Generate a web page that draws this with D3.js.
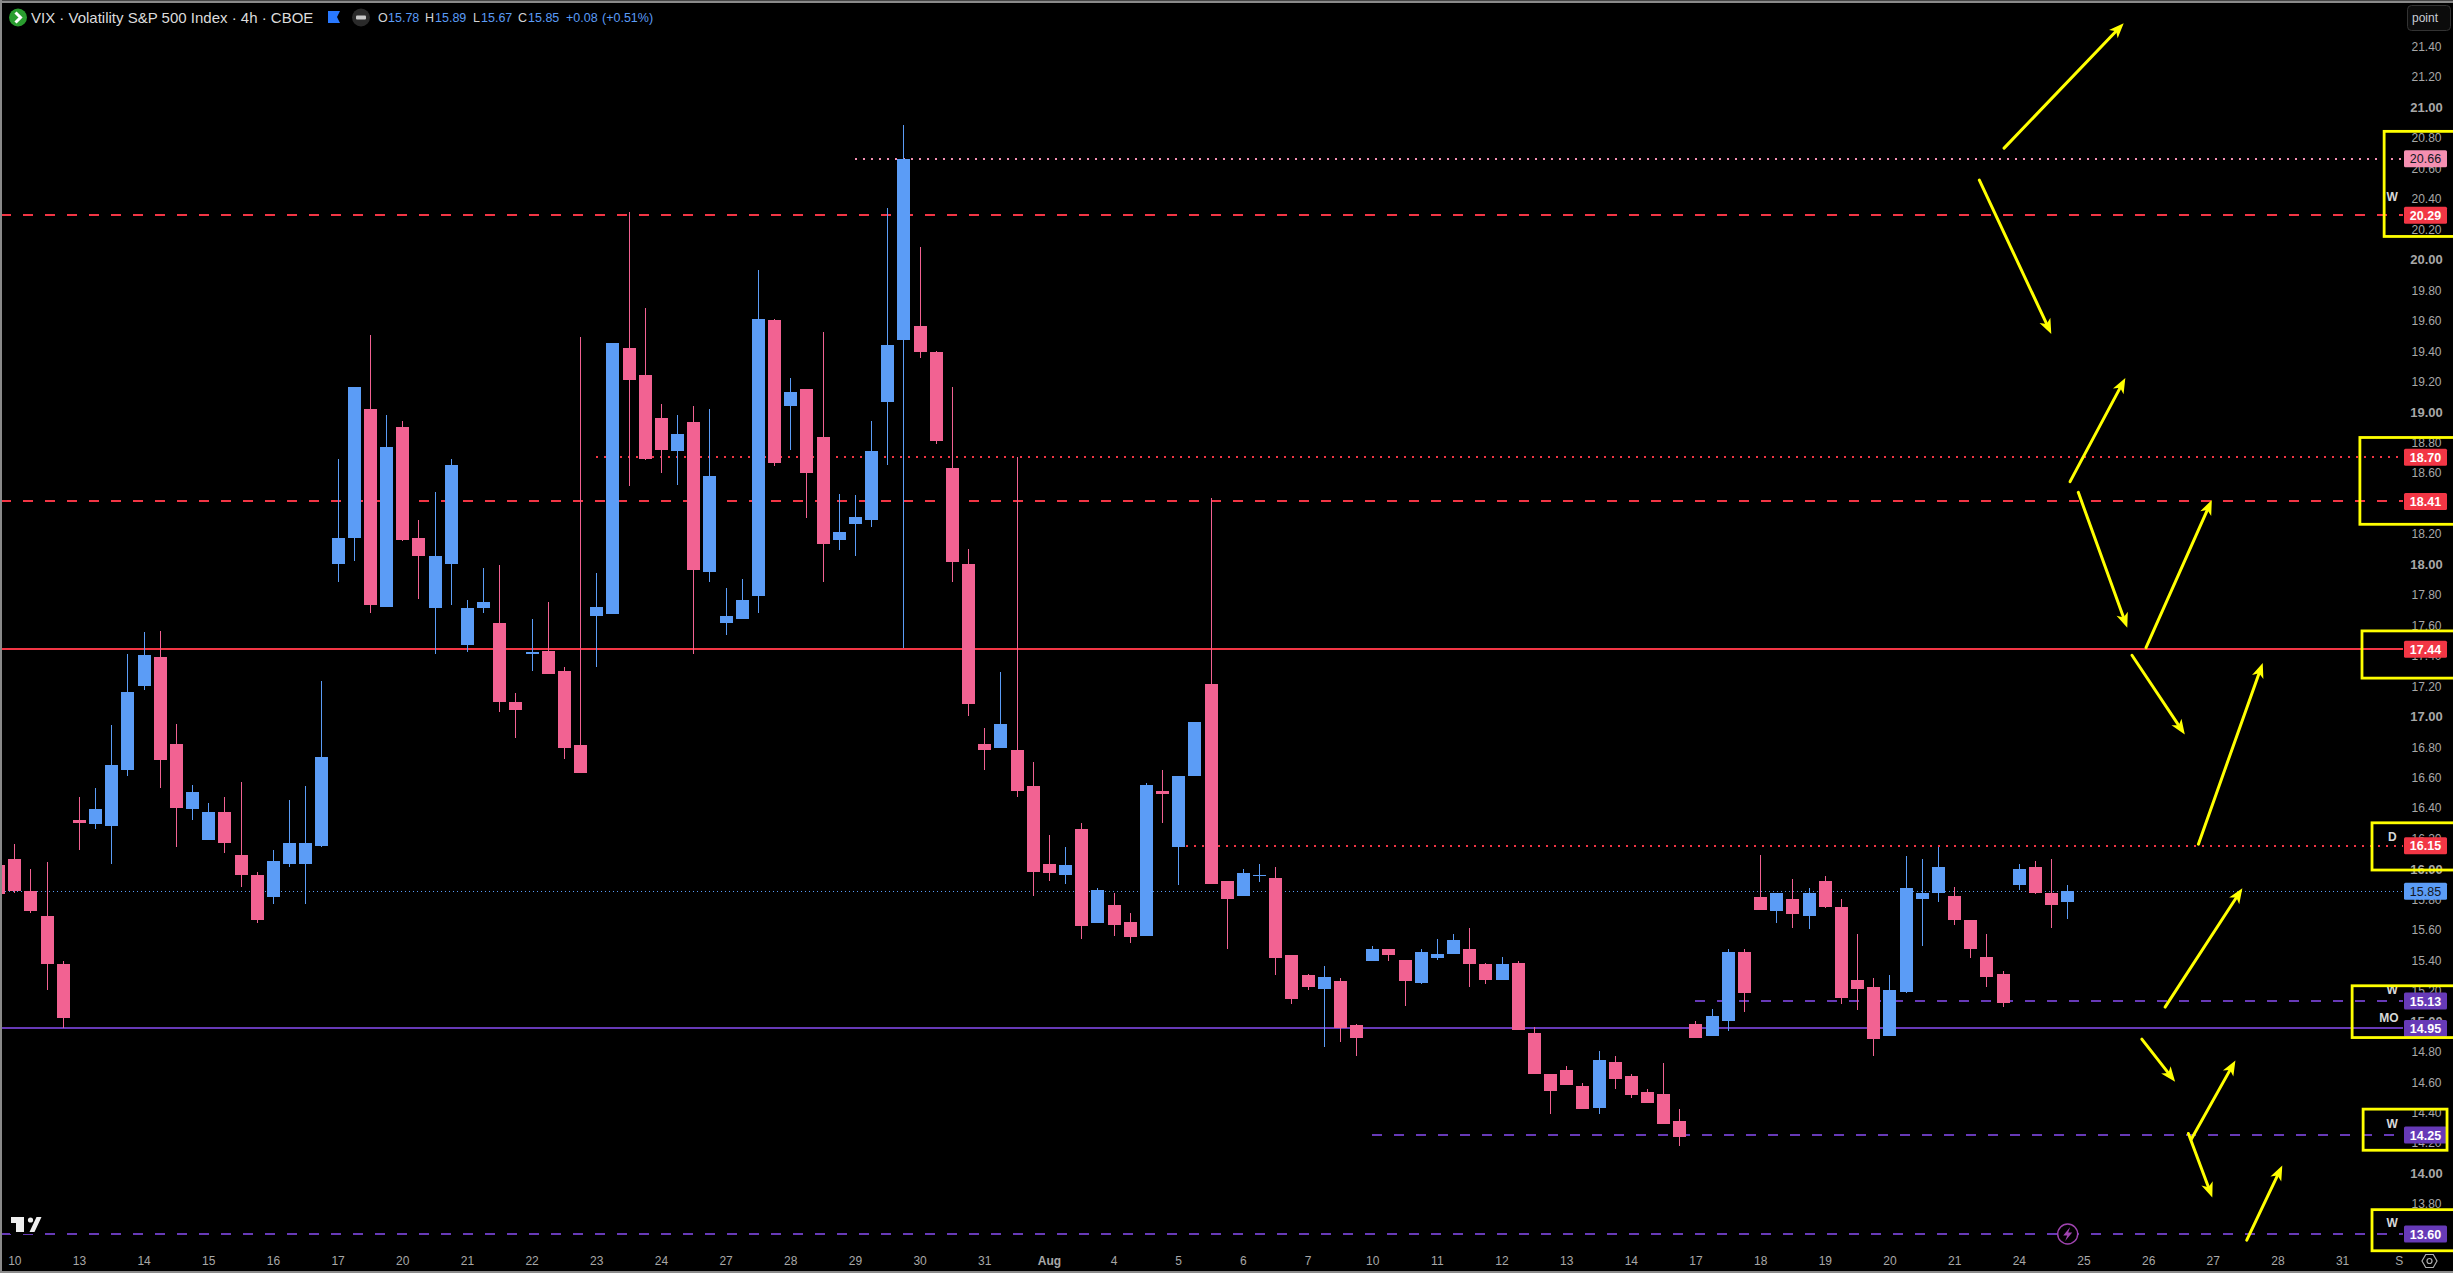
<!DOCTYPE html>
<html>
<head>
	<meta charset="utf-8">
	<title>VIX 4h chart</title>
	<style>
		html, body {
			margin: 0;
			background: #000;
			overflow: hidden;
		}
		svg {
			display: block;
			font-family: "Liberation Sans", Arial, sans-serif;
		}
		.axis path, .axis line {
			display: none;
		}
		.axis text {
			fill: #a8a8a8;
			font-size: 12px;
		}
	</style>
</head>
<body>
	<div id="drawing"></div>

	<script src="https://cdnjs.cloudflare.com/ajax/libs/d3/7.8.5/d3.min.js"></script>
	<script>
	// Candles. First one is bar -1, half hidden behind the left edge
	var firstBar = -1
	var opens = [
		16.02,16.06,15.85,15.69,15.37,16.32,16.29,16.28,16.65,17.20,
		17.39,16.82,16.39,16.19,16.37,16.09,15.96,15.81,16.03,16.03,
		16.15,18.00,18.17,19.02,17.72,18.90,18.17,17.71,18.00,17.47,
		17.71,17.61,17.09,17.41,17.43,17.30,16.81,17.66,17.67,19.42,
		19.24,18.96,18.74,18.93,17.95,17.61,17.64,17.79,19.60,19.04,
		19.15,18.83,18.16,18.26,18.29,19.06,19.47,19.56,19.39,18.63,
		18.00,16.82,16.79,16.78,16.54,16.03,15.96,16.26,15.64,15.76,
		15.65,15.56,16.51,16.14,16.61,17.21,15.92,15.82,15.95,15.94,
		15.43,15.30,15.21,15.26,14.97,15.39,15.47,15.40,15.25,15.41,
		15.44,15.47,15.37,15.27,15.38,14.92,14.65,14.68,14.57,14.43,
		14.73,14.64,14.53,14.52,14.34,14.98,14.90,15.00,15.45,15.81,
		15.72,15.80,15.69,15.92,15.75,15.27,15.22,14.90,15.19,15.80,
		15.84,15.82,15.66,15.42,15.31,15.89,16.01,15.84,15.78
	]
	var highs = [
		16.07,16.16,16.00,16.04,15.39,16.47,16.53,16.94,17.41,17.55,
		17.56,16.95,16.55,16.43,16.47,16.57,15.98,16.12,16.45,16.54,
		17.23,18.69,19.16,19.50,18.98,18.94,18.29,18.47,18.69,17.76,
		17.97,17.99,17.15,17.64,17.75,17.32,19.49,17.94,19.45,20.31,
		19.68,19.05,18.98,19.04,19.02,17.84,17.90,19.93,19.61,19.22,
		19.15,19.52,18.46,18.45,18.94,20.34,20.88,20.08,19.40,19.16,
		18.10,16.92,17.29,18.70,16.70,16.22,16.14,16.30,15.87,15.84,
		15.71,16.56,16.65,16.61,16.96,18.43,15.92,16.00,16.03,16.01,
		15.43,15.31,15.36,15.28,14.98,15.49,15.47,15.40,15.47,15.54,
		15.57,15.61,15.38,15.42,15.39,14.96,14.65,14.70,14.59,14.80,
		14.77,14.65,14.55,14.72,14.42,15.00,15.08,15.47,15.47,16.09,
		15.84,15.93,15.87,15.95,15.80,15.57,15.28,15.30,16.08,16.06,
		16.14,15.88,15.66,15.57,15.33,16.03,16.05,16.06,15.89
	]
	var lows = [
		15.81,15.84,15.71,15.20,14.95,16.12,16.26,16.03,16.61,17.17,
		16.53,16.14,16.32,16.19,16.10,15.88,15.64,15.77,16.01,15.77,
		16.14,17.88,18.02,17.68,17.72,18.15,17.77,17.41,17.73,17.42,
		17.68,17.03,16.86,17.30,17.28,16.72,16.63,17.32,17.67,18.51,
		18.68,18.60,18.52,17.41,17.88,17.53,17.64,17.68,18.64,18.75,
		18.30,17.88,18.09,18.05,18.24,18.65,17.45,19.35,18.79,17.88,
		17.00,16.65,16.79,16.47,15.82,15.92,15.90,15.54,15.64,15.56,
		15.51,15.56,16.30,15.89,16.61,15.90,15.47,15.82,15.91,15.30,
		15.11,15.20,14.83,14.86,14.77,15.39,15.39,15.10,15.24,15.40,
		15.44,15.22,15.24,15.27,14.94,14.65,14.39,14.58,14.42,14.39,
		14.55,14.49,14.46,14.32,14.18,14.89,14.90,14.93,15.06,15.73,
		15.64,15.61,15.60,15.74,15.11,15.07,14.77,14.90,15.18,15.49,
		15.78,15.63,15.41,15.22,15.09,15.86,15.83,15.61,15.67
	]
	var closes = [
		15.83,15.85,15.72,15.37,15.02,16.30,16.39,16.68,17.16,17.40,
		16.71,16.40,16.50,16.37,16.17,15.96,15.66,16.05,16.17,16.17,
		16.73,18.17,19.16,17.73,18.77,18.16,18.05,18.05,18.65,17.71,
		17.75,17.09,17.04,17.42,17.28,16.79,16.63,17.72,19.45,19.21,
		18.69,18.75,18.85,17.96,18.58,17.66,17.76,19.61,18.66,19.13,
		18.60,18.13,18.21,18.31,18.74,19.44,20.66,19.39,18.81,18.01,
		17.08,16.78,16.95,16.51,15.98,15.97,16.02,15.62,15.86,15.63,
		15.55,16.55,16.49,16.61,16.96,15.90,15.80,15.97,15.96,15.41,
		15.14,15.22,15.29,14.95,14.89,15.47,15.43,15.26,15.45,15.44,
		15.53,15.37,15.27,15.37,14.94,14.65,14.54,14.58,14.42,14.74,
		14.62,14.51,14.46,14.32,14.24,14.89,15.03,15.45,15.18,15.73,
		15.84,15.70,15.84,15.75,15.15,15.21,14.88,15.20,15.87,15.84,
		16.01,15.66,15.47,15.29,15.12,16.00,15.84,15.76,15.85
	]

	// Axis labels
	var dayLabels = ["10","13","14","15","16","17","20","21","22","23","24","27","28","29","30","31","Aug",
		"4","5","6","7","10","11","12","13","14","17","18","19","20","21","24","25","26","27","28","31","S"]
	var dayBars = dayLabels.map(function(d, i){ return d == "S" ? 147.5 : i*4 })
	var priceTicks = d3.range(0, 39).map(function(i){ return +(13.8 + i*0.2).toFixed(2) })

	// Horizontal levels: price, line type, first bar
	var levelPrices = [20.66, 20.29, 18.70, 18.41, 17.44, 16.15, 15.85, 15.13, 14.95, 14.25, 13.60]
	var levelTypes  = ["dot", "dash", "dot", "dash", "solid", "dot", "last", "dash", "solid", "dash", "dash"]
	var levelColors = ["pink", "red", "red", "red", "red", "red", "blue", "purple", "purple", "purple", "purple"]
	var levelStarts = [52, -1, 36, -1, -1, 72.5, -1, 104, -1, 84, -1]

	// Letters next to the levels
	var noteTexts  = ["W", "D", "W", "MO", "W", "W"]
	var notePrices = [20.41, 16.21, 15.20, 15.02, 14.32, 13.67]
	var noteBars   = [147.1, 147.1, 147.1, 146.9, 147.1, 147.1]

	// Yellow arrows drawn by hand on the chart: bar, price -> bar, price
	var arrowFrom = [[123.09,20.73],[121.56,20.52],[127.17,18.54],[127.68,18.47],[131.87,17.45],[131.00,17.40],
		[135.11,16.16],[133.05,15.09],[131.61,14.88],[134.66,14.22],[134.49,14.26],[138.10,13.56]]
	var arrowTo = [[130.49,21.55],[126.01,19.51],[130.59,19.22],[130.71,17.58],[135.94,18.42],[134.27,16.88],
		[139.09,17.35],[137.83,15.87],[133.67,14.60],[137.40,14.74],[135.97,13.84],[140.30,14.05]]

	// Yellow boxes: bar left, bar right, price top, price bottom
	var boxBars = [[146.60,151],[145.10,151],[145.23,151],[145.85,151],[144.62,151],[145.30,150.49],[145.85,151]]
	var boxPrices = [[20.84,20.15],[18.83,18.26],[17.56,17.25],[16.30,15.99],[15.23,14.89],[14.42,14.15],[13.76,13.49]]

	// Settings
	var canvasWidth  = 2453,
		canvasHeight = 1273,
		plotRight    = 2403,
		labelX       = 2404,
		labelW       = 43,
		labelH       = 17,
		bodyWidth    = 13

	var colors = {
		up: "#5b9cf6", down: "#f26292",
		pink: "#f48fb1", red: "#f23645", blue: "#5b9cf6", purple: "#673ab7",
		yellow: "#ffff00"
	}

	var x = d3.scaleLinear().domain([0, 127]).range([14.3, 2067.3])
	var y = d3.scaleLinear().domain([21, 14]).range([107, 1173.1])

	var svg = d3.select("#drawing").append("svg")
		.attr("width", canvasWidth)
		.attr("height", canvasHeight)

	svg.append("rect").attr("width", canvasWidth).attr("height", canvasHeight).attr("fill", "#000")

	// Axes
	var yAxis = svg.append("g").attr("class", "axis")
		.attr("transform", "translate(2426.5,0.5)")
		.call(d3.axisRight(y).tickValues(priceTicks).tickFormat(d3.format(".2f")).tickSize(0))
	yAxis.selectAll("text")
		.attr("x", 0)
		.attr("text-anchor", "middle")
		.style("font-size", function(d){ return d % 1 == 0 ? "13px" : "12px" })
		.style("font-weight", function(d){ return d % 1 == 0 ? "600" : "400" })

	var xAxis = svg.append("g").attr("class", "axis")
		.attr("transform", "translate(0,1253)")
		.call(d3.axisBottom(x).tickValues(dayBars).tickFormat(function(d){
			return dayLabels[dayBars.indexOf(d)]
		}).tickSize(0).tickPadding(3))
	xAxis.selectAll("text")
		.style("font-weight", function(d){ return d == 64 ? "600" : "400" })

	// Level lines sit under the candles
	var dashFor = { dot: "2 6", dash: "10 12", solid: null, last: "1 3" }
	svg.append("g").selectAll("line")
		.data(levelPrices)
		.join("line")
		.attr("x1", function(d, i){ return levelStarts[i] < 0 ? 0.5 : x(levelStarts[i]) })
		.attr("x2", plotRight)
		.attr("y1", function(d){ return Math.round(y(d)) })
		.attr("y2", function(d){ return Math.round(y(d)) })
		.attr("stroke", function(d, i){ return colors[levelColors[i]] })
		.attr("stroke-width", function(d, i){ return levelTypes[i] == "last" ? 1 : 2 })
		.attr("stroke-dasharray", function(d, i){ return dashFor[levelTypes[i]] })
		.attr("shape-rendering", "crispEdges")

	// Candles
	var candles = svg.append("g").attr("shape-rendering", "crispEdges")
	var barColor = function(i){ return closes[i] >= opens[i] ? colors.up : colors.down }
	var barX = function(i){ return Math.round(x(i + firstBar)) }

	candles.selectAll(".wick")
		.data(opens)
		.join("line")
		.attr("class", "wick")
		.attr("x1", function(d, i){ return barX(i) + 0.5 })
		.attr("x2", function(d, i){ return barX(i) + 0.5 })
		.attr("y1", function(d, i){ return y(highs[i]) })
		.attr("y2", function(d, i){ return y(lows[i]) })
		.attr("stroke", function(d, i){ return barColor(i) })

	candles.selectAll(".body")
		.data(opens)
		.join("rect")
		.attr("class", "body")
		.attr("x", function(d, i){ return barX(i) - 6 })
		.attr("width", bodyWidth)
		.attr("y", function(d, i){ return y(Math.max(opens[i], closes[i])) })
		.attr("height", function(d, i){ return Math.max(1.5, Math.abs(y(opens[i]) - y(closes[i]))) })
		.attr("fill", function(d, i){ return barColor(i) })

	// Price labels on the right
	var tags = svg.append("g")
	levelPrices.forEach(function(p, i){
		var name = levelColors[i]
		var darkText = name == "pink" || name == "blue"
		var cy = y(p)
		tags.append("rect")
			.attr("x", labelX).attr("y", cy - labelH/2)
			.attr("width", labelW).attr("height", labelH)
			.attr("rx", 1.5)
			.attr("fill", colors[name])
		tags.append("text")
			.attr("x", labelX + labelW/2).attr("y", cy + 4.5)
			.attr("text-anchor", "middle")
			.attr("font-size", 12.5)
			.attr("font-weight", darkText ? 400 : 700)
			.attr("fill", darkText ? "#131722" : "#fff")
			.text(p.toFixed(2))
	})

	// Letters
	svg.append("g").selectAll("text")
		.data(noteTexts)
		.join("text")
		.attr("x", function(d, i){ return x(noteBars[i]) })
		.attr("y", function(d, i){ return y(notePrices[i]) + 4 })
		.attr("text-anchor", "middle")
		.attr("font-size", 12)
		.attr("font-weight", 600)
		.attr("fill", "#d8d8d8")
		.text(function(d){ return d })

	// Yellow boxes
	svg.append("g").selectAll("rect")
		.data(boxBars)
		.join("rect")
		.attr("x", function(d){ return x(d[0]) })
		.attr("width", function(d){ return x(d[1]) - x(d[0]) })
		.attr("y", function(d, i){ return y(boxPrices[i][0]) })
		.attr("height", function(d, i){ return y(boxPrices[i][1]) - y(boxPrices[i][0]) })
		.attr("fill", "none")
		.attr("stroke", colors.yellow)
		.attr("stroke-width", 2.8)

	// Yellow arrows
	var arrows = svg.append("g")
	arrowFrom.forEach(function(a, i){
		var x1 = x(a[0]), y1 = y(a[1]), x2 = x(arrowTo[i][0]), y2 = y(arrowTo[i][1])
		var ang = Math.atan2(y2 - y1, x2 - x1)
		var cos = Math.cos(ang), sin = Math.sin(ang)
		arrows.append("line")
			.attr("x1", x1).attr("y1", y1)
			.attr("x2", x2 - cos*8).attr("y2", y2 - sin*8)
			.attr("stroke", colors.yellow)
			.attr("stroke-width", 3)
			.attr("stroke-linecap", "round")
		// head
		var pts = [[0,0],[-15,-6],[-11,0],[-15,6]].map(function(p){
			return [x2 + p[0]*cos - p[1]*sin, y2 + p[0]*sin + p[1]*cos]
		})
		arrows.append("polygon").attr("points", pts.join(" ")).attr("fill", colors.yellow)
	})

	// Chart window border
	var edge = svg.append("g").attr("fill", "#8a8a8a")
	edge.append("rect").attr("width", canvasWidth).attr("height", 2.5).attr("y", 0.5)
	edge.append("rect").attr("width", 2).attr("height", canvasHeight)
	edge.append("rect").attr("width", canvasWidth).attr("height", 2).attr("y", canvasHeight - 2)

	// Header line
	var head = svg.append("g")
	head.append("circle").attr("cx", 18).attr("cy", 17.5).attr("r", 9).attr("fill", "#2a9d2f")
	head.append("path").attr("d", "M15.5,12.5 L20.5,17.5 L15.5,22.5").attr("fill", "none")
		.attr("stroke", "#fff").attr("stroke-width", 3)
	head.append("text").attr("id", "title").attr("x", 31).attr("y", 23)
		.attr("font-size", 15).attr("fill", "#dcdcdc")
		.text("VIX · Volatility S&P 500 Index · 4h · CBOE")
	head.append("path").attr("d", "M328,11 H340 L337,17 L340,23 H328 Z").attr("fill", "#2979ff")
	head.append("circle").attr("cx", 361).attr("cy", 17.5).attr("r", 9).attr("fill", "#2a2a2a")
	head.append("rect").attr("x", 356).attr("y", 15.5).attr("width", 10).attr("height", 4).attr("rx", 1).attr("fill", "#c8c8c8")

	var ohlcText = [["O",378],["15.78",388],["H",425],["15.89",435],["L",473],["15.67",481],["C",518],["15.85",528],["+0.08",566],["(+0.51%)",602]]
	head.selectAll(".ohlc")
		.data(ohlcText)
		.join("text")
		.attr("class", "ohlc")
		.attr("x", function(d){ return d[1] })
		.attr("y", 22)
		.attr("font-size", 12.5)
		.attr("fill", function(d){ return /^[OHLC]$/.test(d[0]) ? "#d4d4d4" : colors.up })
		.text(function(d){ return d[0] })

	// "point" unit button
	svg.append("rect").attr("x", 2407.5).attr("y", 5.5).attr("width", 43).attr("height", 25).attr("rx", 4)
		.attr("fill", "#0c0c0c").attr("stroke", "#333")
	svg.append("text").attr("x", 2425).attr("y", 22).attr("text-anchor", "middle")
		.attr("font-size", 12).attr("fill", "#c9cdd6").text("point")

	// TradingView mark
	var logo = svg.append("g")
	logo.append("rect").attr("x", 10).attr("y", 1214).attr("width", 34).attr("height", 20).attr("fill", "#000")
	logo.append("path").attr("d", "M11,1217 H24 V1232 H16 V1223 H11 Z M29.5,1232 L36.5,1217 H41.5 L34.5,1232 Z").attr("fill", "#eee")
	logo.append("circle").attr("cx", 30.5).attr("cy", 1220).attr("r", 2.6).attr("fill", "#eee")

	// Lightning badge
	var bolt = svg.append("g").attr("transform", "translate(2067.7,1234)")
	bolt.append("circle").attr("r", 10).attr("fill", "#000").attr("stroke", "#a044b0").attr("stroke-width", 1.4)
	bolt.append("path").attr("d", "M2.5,-7 L-4.5,1.5 H-0.5 L-2.5,7 L4.5,-1.5 H0.5 Z").attr("fill", "#a044b0")

	// Settings hexagon bottom right
	var hex = d3.range(6).map(function(i){
		var a = Math.PI/3*i
		return [2429.5 + 7.5*Math.cos(a), 1261 + 7.5*Math.sin(a)]
	})
	svg.append("path").attr("d", d3.line().curve(d3.curveLinearClosed)(hex))
		.attr("fill", "none").attr("stroke", "#b0b0b0").attr("stroke-width", 1.2)
	svg.append("circle").attr("cx", 2429.5).attr("cy", 1261).attr("r", 2.5)
		.attr("fill", "none").attr("stroke", "#b0b0b0").attr("stroke-width", 1.2)
	</script>
</body>
</html>
